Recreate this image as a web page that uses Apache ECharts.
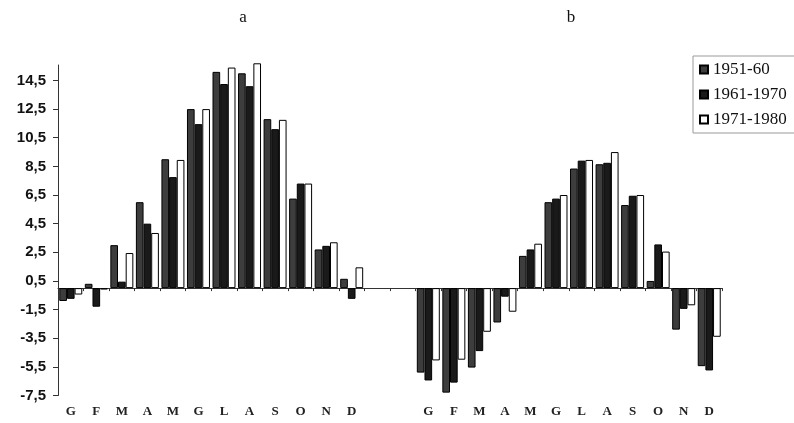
<!DOCTYPE html>
<html>
<head>
<meta charset="utf-8">
<script src="https://cdn.jsdelivr.net/npm/echarts@6/dist/echarts.min.js"></script>
<style>
html,body{margin:0;padding:0;background:#fff;}
#chart{width:794px;height:423px;}
</style>
</head>
<body>
<div id="chart"></div>
<script>
// Month labels (Italian initials) for panel a and panel b
var monthsA = ['G','F','M','A','M','G','L','A','S','O','N','D'];
var monthsB = ['G','F','M','A','M','G','L','A','S','O','N','D'];
var seriesNames = ['1951-60','1961-1970','1971-1980'];
var panelTitles = ['a','b'];
// y tick label values
var yTicks = [-7.5,-5.5,-3.5,-1.5,0.5,2.5,4.5,6.5,8.5,10.5,12.5,14.5];

// Panel a values
var a1951 = [-0.9, 0.3, 3.0, 6.0, 9.0, 12.5, 15.1, 15.0, 11.8, 6.25, 2.7, 0.65];
var a1961 = [-0.75, -1.3, 0.45, 4.5, 7.75, 11.45, 14.25, 14.1, 11.1, 7.3, 2.95, -0.75];
var a1971 = [-0.45, -0.1, 2.45, 3.85, 8.95, 12.5, 15.4, 15.7, 11.75, 7.3, 3.2, 1.45];
// Panel b values
var b1951 = [-5.9, -7.3, -5.55, -2.4, 2.25, 6.0, 8.35, 8.65, 5.8, 0.5, -2.9, -5.45];
var b1961 = [-6.45, -6.6, -4.4, -0.6, 2.7, 6.25, 8.9, 8.75, 6.45, 3.05, -1.45, -5.75];
var b1971 = [-5.05, -5.0, -3.05, -1.65, 3.1, 6.5, 8.95, 9.5, 6.5, 2.55, -1.2, -3.4];

var gap = ['', ''];
var categories = monthsA.concat(gap, monthsB);
function join(a, b){ return a.concat([null, null], b); }
var values = [join(a1951, b1951), join(a1961, b1961), join(a1971, b1971)];

var styles = [
  {color:'#3d3d3d', borderColor:'#000', borderWidth:1},
  {color:'#1a1a1a', borderColor:'#000', borderWidth:1},
  {color:'#ffffff', borderColor:'#000', borderWidth:1}
];

var chart = echarts.init(document.getElementById('chart'));
chart.setOption({
  animation:false,
  backgroundColor:'#fff',
  grid:{left:58, top:65, width:664, bottom:27.5, containLabel:false},
  graphic:[
    {type:'text', x:243, y:18, style:{text:panelTitles[0], font:'17px "Liberation Serif"', fill:'#111', textAlign:'center', textVerticalAlign:'middle'}},
    {type:'text', x:571, y:18, style:{text:panelTitles[1], font:'17px "Liberation Serif"', fill:'#111', textAlign:'center', textVerticalAlign:'middle'}}
  ],
  legend:{
    orient:'vertical', left:693, top:56,
    padding:[5,30,5,6],
    borderColor:'#999', borderWidth:1,
    itemWidth:8, itemHeight:8, itemGap:8,
    icon:'rect',
    textStyle:{fontFamily:'Liberation Serif', fontSize:17, color:'#111'},
    data:seriesNames
  },
  xAxis:[
    {type:'category', data:categories, position:'bottom',
     axisLine:{show:true, onZero:true, lineStyle:{color:'#333', width:1}},
     axisTick:{show:true, interval:0, length:3, lineStyle:{color:'#333'}},
     axisLabel:{show:false}, splitLine:{show:false}},
    {type:'category', data:categories, position:'bottom',
     axisLine:{show:false, onZero:false}, axisTick:{show:false},
     axisLabel:{show:true, interval:0, margin:10, fontFamily:'Liberation Serif', fontWeight:'bold', fontSize:13, color:'#222'},
     splitLine:{show:false}}
  ],
  yAxis:{
    type:'value', min:-7.5, max:15.58,
    axisLine:{show:true, lineStyle:{color:'#333', width:1}},
    axisTick:{show:true, length:5, customValues:yTicks, lineStyle:{color:'#333'}},
    axisLabel:{show:true, customValues:yTicks, margin:12, fontFamily:'Liberation Sans', fontWeight:'bold', fontSize:15, color:'#111',
      formatter:function(v){ return v.toFixed(1).replace('.', ','); }},
    splitLine:{show:false}
  },
  series:seriesNames.map(function(n, i){
    return {name:n, type:'bar', xAxisIndex:0, data:values[i], clip:false,
      barGap:'0%', barCategoryGap:'10%', itemStyle:styles[i]};
  })
});
</script>
</body>
</html>
